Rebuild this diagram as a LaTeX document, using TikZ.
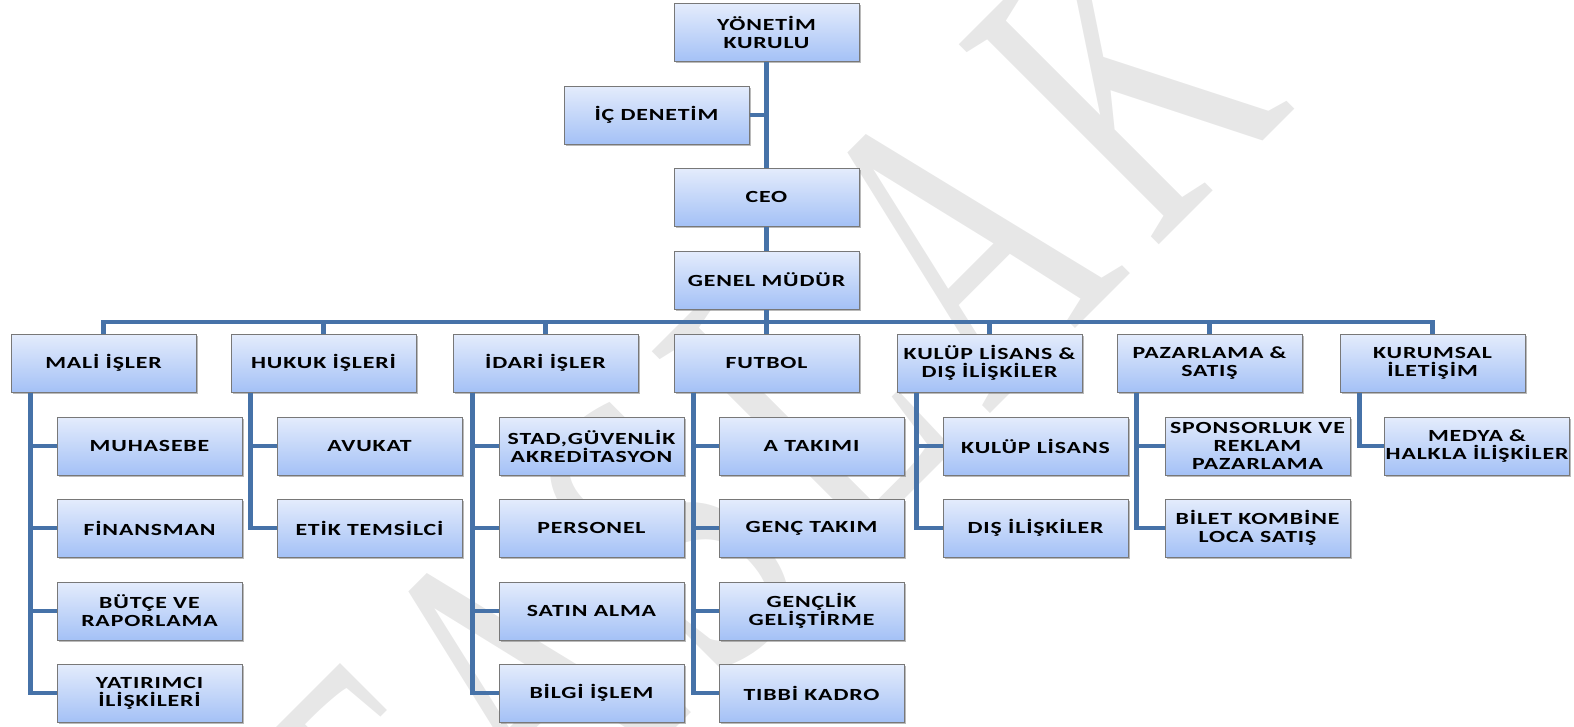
\documentclass[tikz,border=0pt]{standalone}
\usepackage{fontspec}
\newfontfamily\boxfont{Carlito}[FakeStretch=1.4,LetterSpace=5]
\newfontfamily\wmfont{Liberation Serif}[FakeStretch=0.65,LetterSpace=7]
\usetikzlibrary{shadows}
\definecolor{connc}{RGB}{70,114,168}
\definecolor{boxtop}{RGB}{228,236,252}
\definecolor{boxbot}{RGB}{164,193,246}
\definecolor{boxline}{RGB}{120,120,120}
\definecolor{wmc}{RGB}{231,231,231}
\begin{document}
\begin{tikzpicture}[x=1pt,y=-1pt,
  box/.style={draw=boxline, line width=1pt, top color=boxtop, bottom color=boxbot,
    minimum width=185pt, minimum height=58pt, inner sep=0pt, align=center,
    font=\boxfont\bfseries\fontsize{17}{18}\selectfont,
    drop shadow={shadow xshift=1.5pt, shadow yshift=-1.5pt, opacity=0.45, fill=black!60}},
  link/.style={draw=connc, line width=4.8pt},
]
\useasboundingbox (0,0) rectangle (1574,726);
\clip (0,0) rectangle (1574,726);
% watermark
\node[rotate=45, anchor=base west, inner sep=0pt, text=wmc,
  font=\wmfont\fontsize{432}{432}\selectfont] (wm) at (422.7,981.3) {TASLAK};

% top column
\node[box] (yk)  at (766.5,32.5) {YÖNETİM\\KURULU};
\node[box] (ic)  at (656.5,115) {İÇ DENETİM};
\node[box] (ceo) at (766.5,197) {CEO};
\node[box] (gm)  at (766.5,280) {GENEL MÜDÜR};
\coordinate (bus) at (766.5,322);

% level 2
\node[box] (mali)  at (103.5,363) {MALİ İŞLER};
\node[box] (hukuk) at (323.5,363) {HUKUK İŞLERİ};
\node[box] (idari) at (545.5,363) {İDARİ İŞLER};
\node[box] (fut)   at (766.5,363) {FUTBOL};
\node[box] (kul)   at (989.5,363) {KULÜP LİSANS \&\\DIŞ İLİŞKİLER};
\node[box] (paz)   at (1209.5,363) {PAZARLAMA \&\\SATIŞ};
\node[box] (kur)   at (1432.5,363) {KURUMSAL\\İLETİŞİM};

% level 3
\node[box] (muh) at (149.5,446) {MUHASEBE};
\node[box] (fin) at (149.5,528) {FİNANSMAN};
\node[box] (but) at (149.5,611) {BÜTÇE VE\\RAPORLAMA};
\node[box] (yat) at (149.5,693) {YATIRIMCI\\İLİŞKİLERİ};

\node[box] (avu) at (369.5,446) {AVUKAT};
\node[box] (eti) at (369.5,528) {ETİK TEMSİLCİ};

\node[box] (sta) at (591.5,446) {STAD,GÜVENLİK\\AKREDİTASYON};
\node[box] (per) at (591.5,528) {PERSONEL};
\node[box] (sat) at (591.5,611) {SATIN ALMA};
\node[box] (bil) at (591.5,693) {BİLGİ İŞLEM};

\node[box] (ata) at (811.5,446) {A TAKIMI};
\node[box] (gen) at (811.5,528) {GENÇ TAKIM};
\node[box] (gel) at (811.5,611) {GENÇLİK\\GELİŞTİRME};
\node[box] (tib) at (811.5,693) {TIBBİ KADRO};

\node[box] (kli) at (1035.5,446) {KULÜP LİSANS};
\node[box] (dis) at (1035.5,528) {DIŞ İLİŞKİLER};

\node[box] (spo) at (1257.5,446) {SPONSORLUK VE\\REKLAM\\PAZARLAMA};
\node[box] (bkl) at (1257.5,528) {BİLET KOMBİNE\\LOCA SATIŞ};

\node[box] (med) at (1477,446) {MEDYA \&\\HALKLA İLİŞKİLER};

% connectors top
\draw[link] (yk.south) -- (ceo.north);
\draw[link] (ic.east) -- (ic.east -| yk.south);
\draw[link] (ceo.south) -- (gm.north);
\draw[link] (gm.south) -- (bus);
\draw[link] (mali.north) |- (bus) -| (kur.north);
\foreach \n in {hukuk,idari,fut,kul,paz}
  \draw[link] (\n.north) -- (\n.north |- bus);

% connectors to children
\foreach \p/\c in {mali/muh,mali/fin,mali/but,mali/yat,
                   hukuk/avu,hukuk/eti,
                   idari/sta,idari/per,idari/sat,idari/bil,
                   fut/ata,fut/gen,fut/gel,fut/tib,
                   kul/kli,kul/dis,
                   paz/spo,paz/bkl,
                   kur/med}
  \draw[link] ([xshift=20pt]\p.south west) |- (\c.west);
\end{tikzpicture}
\end{document}
